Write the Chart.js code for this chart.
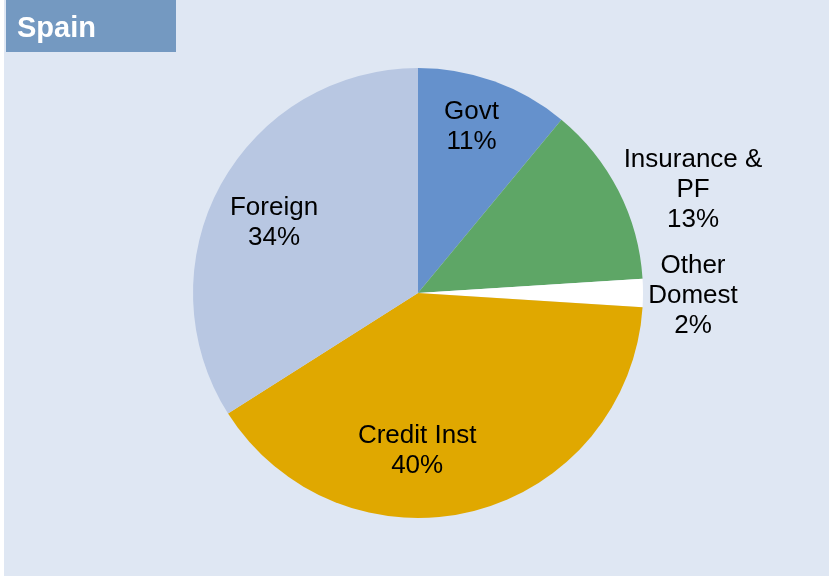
<!DOCTYPE html>
<html>
<head>
<meta charset="utf-8">
<script src="https://cdn.jsdelivr.net/npm/chart.js@4"></script>
<style>
  html, body { margin: 0; padding: 0; background: #ffffff; }
  #wrap { position: relative; width: 831px; height: 576px; }
</style>
</head>
<body>
<div id="wrap"><canvas id="pie" width="831" height="576"></canvas></div>
<script>
const chartTitle = 'Spain';
const categories = ['Govt', 'Insurance & PF', 'Other Domest', 'Credit Inst', 'Foreign'];
const labelLines = [['Govt'], ['Insurance &', 'PF'], ['Other', 'Domest'], ['Credit Inst'], ['Foreign']];
const shares = [11, 13, 2, 40, 34];
const sliceColors = ['#6591cc', '#5ea666', '#ffffff', '#e0a800', '#b8c7e2'];

// labels: inside slices sit on a ring, small slices sit to the right of the pie
const labelStyle = {
  inside: [true, false, false, true, true],
  ring: [0.78, 0, 0, 0.70, 0.72],
  nudge: [[-6, -1], [0, -1], [0, 3], [-40, 5], [-2, 8]]
};
const labelFont = '26px Arial, "Liberation Sans", sans-serif';

const backdrop = {
  id: 'backdrop',
  beforeDraw(chart) {
    const ctx = chart.ctx;
    ctx.save();
    ctx.fillStyle = '#ffffff';
    ctx.fillRect(0, 0, chart.width, chart.height);
    ctx.fillStyle = '#dfe7f3';
    ctx.fillRect(4, 0, chart.width - 6, chart.height);
    ctx.fillStyle = '#7499c1';
    ctx.fillRect(6, 0, 170, 52);
    ctx.fillStyle = '#ffffff';
    ctx.font = 'bold 29px Arial, "Liberation Sans", sans-serif';
    ctx.textBaseline = 'alphabetic';
    ctx.fillText(chartTitle, 17, 37);
    ctx.restore();
  }
};

const sliceLabels = {
  id: 'sliceLabels',
  afterDatasetsDraw(chart) {
    const ctx = chart.ctx;
    const meta = chart.getDatasetMeta(0);
    const total = shares.reduce((a, b) => a + b, 0);
    ctx.save();
    ctx.fillStyle = '#000000';
    ctx.font = labelFont;
    ctx.textAlign = 'center';
    ctx.textBaseline = 'middle';
    meta.data.forEach((arc, i) => {
      const p = arc.getProps(['x', 'y', 'startAngle', 'endAngle', 'outerRadius'], true);
      const mid = (p.startAngle + p.endAngle) / 2;
      let x, y;
      if (labelStyle.inside[i]) {
        const d = p.outerRadius * labelStyle.ring[i];
        x = p.x + Math.cos(mid) * d;
        y = p.y + Math.sin(mid) * d;
      } else {
        x = p.x + p.outerRadius + 50;
        y = p.y + Math.sin(mid) * p.outerRadius;
      }
      x += labelStyle.nudge[i][0];
      y += labelStyle.nudge[i][1];
      const pct = Math.round(shares[i] / total * 100) + '%';
      const lines = labelLines[i].concat([pct]);
      const lh = 30;
      const top = y - (lines.length - 1) * lh / 2;
      lines.forEach((t, k) => ctx.fillText(t, x, top + k * lh));
    });
    ctx.restore();
  }
};

new Chart(document.getElementById('pie').getContext('2d'), {
  type: 'pie',
  data: {
    labels: categories,
    datasets: [{
      data: shares,
      backgroundColor: sliceColors,
      borderWidth: 0
    }]
  },
  options: {
    responsive: false,
    animation: false,
    layout: { padding: { top: 68, bottom: 58, left: 193, right: 188 } },
    plugins: {
      legend: { display: false },
      tooltip: { enabled: false },
      title: { display: false }
    }
  },
  plugins: [backdrop, sliceLabels]
});
</script>
</body>
</html>
